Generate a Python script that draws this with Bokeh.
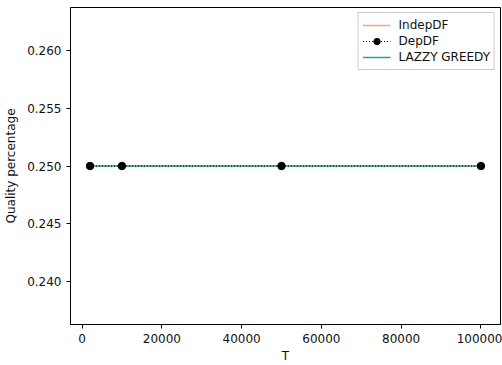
from bokeh.plotting import figure
from bokeh.models import Range1d, Legend, LegendItem, FixedTicker, CustomJSTickFormatter
from bokeh.embed import file_html
from bokeh.resources import INLINE

T = [2000, 10000, 50000, 100000]
indep_df = [0.25, 0.25, 0.25, 0.25]
dep_df = [0.25, 0.25, 0.25, 0.25]
lazzy_greedy = [0.25, 0.25, 0.25, 0.25]
x_ticks = [0, 20000, 40000, 60000, 80000, 100000]
y_ticks = [0.240, 0.245, 0.250, 0.255, 0.260]

p = figure(width=502, height=365, output_backend="svg", toolbar_location=None,
           x_range=Range1d(-2900, 104900), y_range=Range1d(0.2363, 0.2637))
p.min_border_left = 70
p.min_border_right = 2
p.min_border_top = 7
p.min_border_bottom = 40
p.border_fill_color = "white"
p.outline_line_color = "black"
p.outline_line_width = 1
p.grid.visible = False

r1 = p.line(T, indep_df, line_color="#f7a582", line_width=1.5)
r3 = p.line(T, lazzy_greedy, line_color="#2aa198", line_width=1.5)
r2 = p.line(T, dep_df, line_color="black", line_width=1, line_dash="1 2")
r2m = p.scatter(T, dep_df, size=7.5, fill_color="black", line_color="black")

for ax in (p.xaxis[0], p.yaxis[0]):
    ax.major_label_text_font = "DejaVu Sans"
    ax.major_label_text_font_size = "12px"
    ax.major_label_text_color = "#111111"
    ax.axis_label_text_font = "DejaVu Sans"
    ax.axis_label_text_font_size = "12px"
    ax.axis_label_text_font_style = "normal"
    ax.axis_label_text_color = "#111111"
    ax.minor_tick_line_color = None
    ax.major_tick_out = 4
    ax.major_tick_in = 0
    ax.axis_line_color = "black"
    ax.major_tick_line_color = "black"

p.xaxis.ticker = FixedTicker(ticks=x_ticks)
p.yaxis.ticker = FixedTicker(ticks=y_ticks)
p.xaxis.axis_label = "T"
p.yaxis.axis_label = "Quality percentage"
p.xaxis.axis_label_standoff = 3
p.yaxis.axis_label_standoff = 6
p.yaxis.formatter = CustomJSTickFormatter(code="return tick.toFixed(3);")
p.xaxis.formatter = CustomJSTickFormatter(code="return tick.toFixed(0);")

legend = Legend(items=[
    LegendItem(label="IndepDF", renderers=[r1]),
    LegendItem(label="DepDF", renderers=[r2, r2m]),
    LegendItem(label="LAZZY GREEDY", renderers=[r3]),
], location="top_right")
legend.label_text_font = "DejaVu Sans"
legend.label_text_font_size = "12px"
legend.label_text_color = "#111111"
legend.border_line_color = "#cccccc"
legend.border_line_alpha = 1
legend.background_fill_alpha = 0.8
legend.margin = 5
legend.padding = 4
legend.spacing = 0
legend.label_height = 16
legend.glyph_height = 16
legend.glyph_width = 28
legend.label_standoff = 8
p.add_layout(legend)

open("out.html", "w").write(file_html(p, INLINE))
